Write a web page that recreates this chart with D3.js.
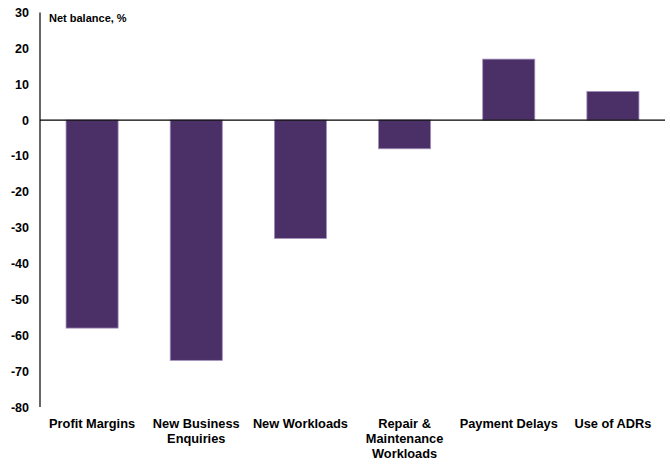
<!DOCTYPE html>
<html>
<head>
<meta charset="utf-8">
<script src="https://cdn.jsdelivr.net/npm/d3@7"></script>
<style>
  html, body { margin: 0; padding: 0; background: #fff; }
  svg { display: block; font-family: "Liberation Sans", Arial, sans-serif; }
</style>
</head>
<body>
<svg id="chart" width="670" height="464"></svg>
<script>
// Survey net balances by indicator
const categories = [
  ["Profit Margins"],
  ["New Business", "Enquiries"],
  ["New Workloads"],
  ["Repair &", "Maintenance", "Workloads"],
  ["Payment Delays"],
  ["Use of ADRs"]
];
const netBalance = [-58, -67, -33, -8, 17, 8];
const yTicks = [30, 20, 10, 0, -10, -20, -30, -40, -50, -60, -70, -80];
const axisTitle = "Net balance, %";

const svg = d3.select("#chart");
const plot = { left: 40, right: 665, top: 12.5, bottom: 407 };

const keys = categories.map(c => c.join(" "));
const x = d3.scaleBand().domain(keys).range([plot.left, plot.right]).paddingInner(0.5).paddingOuter(0.25);
const y = d3.scaleLinear().domain([-80, 30]).range([plot.bottom, plot.top]);

// bars
svg.append("g").selectAll("rect")
  .data(netBalance)
  .join("rect")
  .attr("x", (d, i) => x(keys[i]))
  .attr("width", x.bandwidth())
  .attr("y", d => y(Math.max(0, d)))
  .attr("height", d => Math.abs(y(d) - y(0)))
  .attr("fill", "#4b3068")
  .attr("stroke", "#a48fbc")
  .attr("stroke-width", 0.8);

// y axis: labels only (plain hyphen for negatives), plus a vertical rule
const yAxis = d3.axisLeft(y).tickValues(yTicks).tickSize(0).tickPadding(11).tickFormat(d => String(d));
const gy = svg.append("g").attr("transform", `translate(${plot.left},0)`).call(yAxis);
gy.select(".domain").remove();
gy.selectAll("text")
  .attr("font-size", 12.5)
  .attr("font-weight", "bold")
  .attr("fill", "#000")
  .attr("font-family", "Liberation Sans, Arial, sans-serif");

svg.append("line")
  .attr("x1", plot.left).attr("x2", plot.left)
  .attr("y1", plot.top).attr("y2", plot.bottom)
  .attr("stroke", "#000").attr("stroke-width", 1.2);

// zero line
svg.append("line")
  .attr("x1", plot.left).attr("x2", plot.right)
  .attr("y1", y(0)).attr("y2", y(0))
  .attr("stroke", "#000").attr("stroke-width", 1.2);

// category labels under the plot
const xl = svg.append("g");
categories.forEach((lines, i) => {
  const cx = x(keys[i]) + x.bandwidth() / 2;
  const t = xl.append("text")
    .attr("x", cx)
    .attr("y", 428)
    .attr("text-anchor", "middle")
    .attr("font-size", 12.8)
    .attr("font-weight", "bold")
    .attr("fill", "#000");
  lines.forEach((ln, j) => {
    t.append("tspan").attr("x", cx).attr("dy", j === 0 ? 0 : 15).text(ln);
  });
});

// axis title
svg.append("text")
  .attr("x", 49).attr("y", 22)
  .attr("font-size", 11)
  .attr("font-weight", "bold")
  .attr("fill", "#000")
  .text(axisTitle);
</script>
</body>
</html>
